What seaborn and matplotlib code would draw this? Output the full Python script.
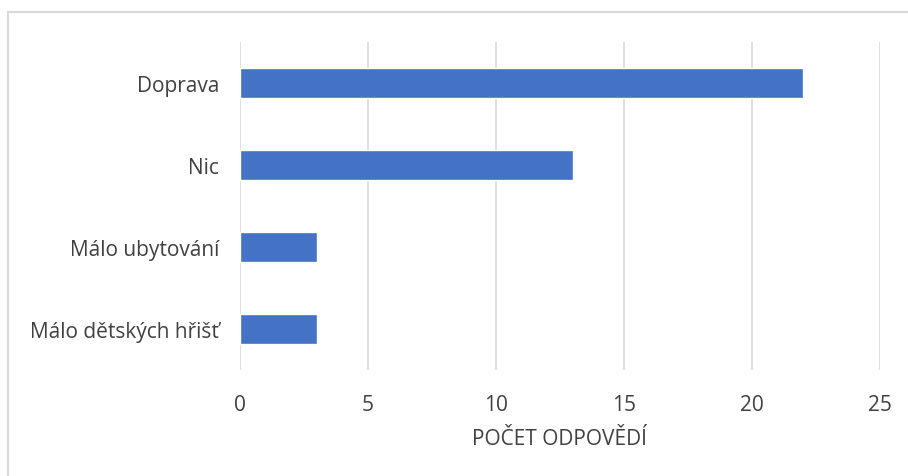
import pandas as pd
import seaborn as sns
import matplotlib
matplotlib.use("Agg")
import matplotlib.pyplot as plt
from matplotlib.patches import Rectangle

categories = ["Doprava", "Nic", "Málo ubytování", "Málo dětských hřišť"]
counts = [22, 13, 3, 3]
xticks = [0, 5, 10, 15, 20, 25]
xlabel = "POČET ODPOVĚDÍ"

sns.set_style("white")
plt.rcParams['font.family'] = ['Open Sans', 'DejaVu Sans']

df = pd.DataFrame({"kategorie": categories, "pocet": counts})

fig = plt.figure(figsize=(9.08, 4.77), dpi=100)
ax = fig.add_axes([240 / 908, 1 - 371 / 477, 640 / 908, 328 / 477])

sns.barplot(data=df, x="pocet", y="kategorie", orient="h", color="#4472C4",
            width=0.355, saturation=1, ax=ax)

ax.set_xlim(0, 25)
ax.set_xticks(xticks)
ax.grid(axis="x", color="#D9D9D9", linewidth=1.2)
ax.set_axisbelow(True)
for s in ax.spines.values():
    s.set_visible(False)
ax.tick_params(axis="both", length=0, labelsize=15, labelcolor="#404040")
ax.tick_params(axis="x", pad=17)
ax.tick_params(axis="y", pad=15)
ax.set_ylabel("")
ax.set_xlabel(xlabel, fontsize=15, color="#404040", labelpad=10)

# outer chart border (cut off at right and bottom in reference)
fig.add_artist(Rectangle((8 / 908, -0.05), 1.0, 1 - 13 / 477 + 0.05,
                         transform=fig.transFigure, fill=False,
                         edgecolor="#D9D9D9", linewidth=1.5))

fig.savefig("out.png", dpi=100)
